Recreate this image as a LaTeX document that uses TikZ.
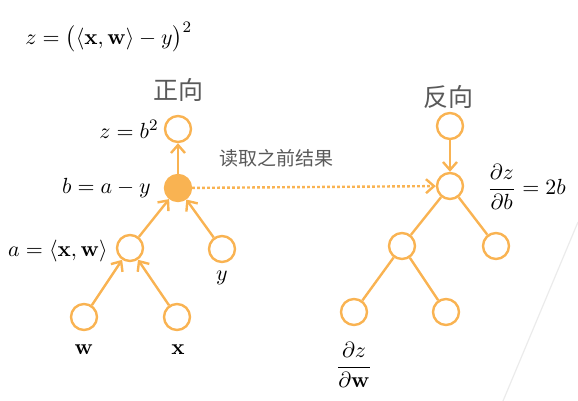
\documentclass[tikz,border=0pt]{standalone}
\usepackage{amsmath}
\usepackage[no-math]{fontspec}
\newfontfamily\cjk{Noto Sans CJK SC}
\usetikzlibrary{arrows.meta}
\definecolor{orng}{HTML}{F9B352}
\definecolor{txtgray}{HTML}{595959}
\tikzset{
  op/.style={circle, draw=orng, line width=1.2pt, minimum size=13pt, inner sep=0pt},
  done/.style={op, fill=orng},
  edge/.style={draw=orng, line width=1.2pt},
  lbl/.style={inner sep=0pt, font=\fontsize{11}{13}\selectfont},
  cn/.style={inner sep=0pt, text=txtgray, font=\cjk\fontsize{12.5}{14}\selectfont},
}
\begin{document}
\begin{tikzpicture}[x=0.5pt, y=-0.5pt, >={Straight Barb[length=4pt,width=7pt]}]
\useasboundingbox (0,0) rectangle (578,401);
\node[lbl, anchor=west] (loss) at (25,37) {$z=\bigl(\langle\mathbf{x},\mathbf{w}\rangle-y\bigr)^2$};
% forward
\node[cn] (fwd) at (178,90) {正向};
\node[op] (zf) at (178,129) {};
\node[done] (bf) at (178,188) {};
\node[op] (af) at (130,248) {};
\node[op] (yf) at (222,249) {};
\node[op] (wf) at (84,317) {};
\node[op] (xf) at (177,317) {};
\node[lbl, anchor=east] (zfl) at (159,129) {$z=b^2$};
\node[lbl, anchor=east] (bfl) at (151,188) {$b=a-y$};
\node[lbl, anchor=east] (afl) at (108,251) {$a=\langle\mathbf{x},\mathbf{w}\rangle$};
\node[lbl] (yfl) at (222,278) {$y$};
\node[lbl] (wfl) at (84,350) {$\mathbf{w}$};
\node[lbl] (xfl) at (178,350) {$\mathbf{x}$};
% backward
\node[cn] (bwd) at (448,97) {反向};
\node[op] (zb) at (450,126) {};
\node[op] (bb) at (450,186) {};
\node[op] (ab) at (402,246) {};
\node[op] (yb) at (496,246) {};
\node[op] (wb) at (354,312) {};
\node[op] (xb) at (446,312) {};
\node[lbl, anchor=west] (bbl) at (487,187) {$\dfrac{\partial z}{\partial b}=2b$};
\node[lbl] (wbl) at (354,365) {$\dfrac{\partial z}{\partial \mathbf{w}}$};
\node[cn, font=\cjk\fontsize{9.5}{11}\selectfont] (reuse) at (276,158) {读取之前结果};

\draw[edge, ->] (wf)--(af);
\draw[edge, ->] (xf)--(af);
\draw[edge, ->] (af)--(bf);
\draw[edge, ->] (yf)--(bf);
\draw[edge, ->] (bf)--(zf);
\draw[edge, ->] (zb)--(bb);
\draw[edge] (bb)--(ab);
\draw[edge] (bb)--(yb);
\draw[edge] (ab)--(wb);
\draw[edge] (ab)--(xb);
\draw[edge, ->, dash pattern=on 1.3pt off 1.2pt] (bf)--(bb);

\draw[black!8, line width=0.6pt] (578,222)--(503,401); % slide edge
\end{tikzpicture}
\end{document}
